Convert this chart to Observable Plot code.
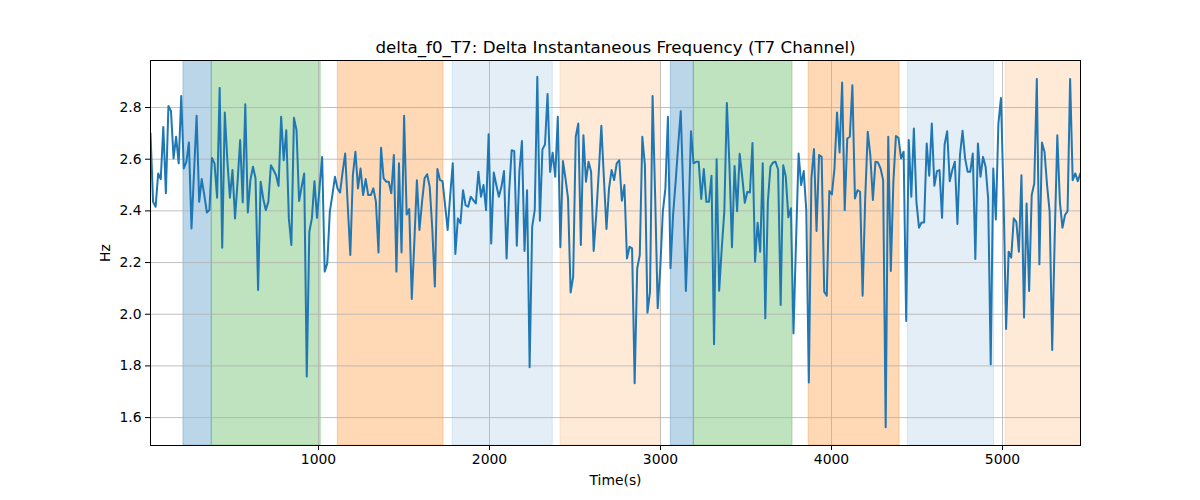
<!DOCTYPE html>
<html>
<head>
<meta charset="utf-8">
<script src="https://cdn.jsdelivr.net/npm/d3@7"></script>
<script src="https://cdn.jsdelivr.net/npm/@observablehq/plot@0.6"></script>
<style>
  html, body { margin: 0; padding: 0; background: #fff; }
  #chart { width: 1200px; height: 500px; }
  svg { font-family: "DejaVu Sans", sans-serif; }
</style>
</head>
<body>
<div id="chart"></div>
<script>
// ---- data ----
const startTime = 17.5;     // s, first sample
const sampleStep = 14.98;   // s between samples
const hz = [
2.700,2.435,2.416,2.545,2.523,2.725,2.468,2.806,2.786,2.603,
2.687,2.584,2.845,2.564,2.590,2.665,2.332,2.551,2.768,2.435,
2.523,2.461,2.394,2.403,2.605,2.584,2.451,2.876,2.257,2.781,
2.596,2.451,2.558,2.371,2.513,2.674,2.433,2.813,2.394,2.519,
2.571,2.526,2.094,2.513,2.448,2.403,2.435,2.577,2.558,2.538,
2.496,2.764,2.596,2.712,2.371,2.268,2.760,2.712,2.438,2.493,
2.545,1.759,2.319,2.371,2.515,2.373,2.493,2.609,2.165,2.197,
2.397,2.461,2.532,2.487,2.471,2.551,2.622,2.422,2.229,2.538,
2.629,2.487,2.564,2.461,2.523,2.461,2.461,2.487,2.435,2.239,
2.644,2.526,2.513,2.513,2.468,2.616,2.165,2.584,2.239,2.768,
2.386,2.407,2.059,2.281,2.519,2.326,2.435,2.526,2.542,2.493,
2.332,2.107,2.562,2.519,2.515,2.422,2.326,2.461,2.584,2.233,
2.371,2.352,2.480,2.422,2.416,2.455,2.442,2.429,2.551,2.455,
2.500,2.403,2.697,2.274,2.549,2.500,2.455,2.493,2.554,2.216,
2.474,2.635,2.631,2.265,2.551,2.670,2.245,2.480,1.795,2.339,
2.403,2.919,2.362,2.638,2.657,2.852,2.551,2.625,2.532,2.764,
2.259,2.593,2.526,2.448,2.084,2.145,2.687,2.738,2.268,2.693,
2.513,2.590,2.551,2.245,2.384,2.551,2.729,2.526,2.330,2.487,
2.558,2.519,2.584,2.596,2.439,2.500,2.216,2.261,2.255,1.733,
2.178,2.229,2.687,2.577,2.006,2.087,2.845,2.461,2.023,2.178,
2.397,2.487,2.764,2.178,2.384,2.513,2.654,2.786,2.461,2.090,
2.358,2.708,2.584,2.590,2.590,2.446,2.562,2.435,2.435,2.536,
1.884,2.600,2.091,2.255,2.397,2.818,2.577,2.259,2.574,2.399,
2.621,2.532,2.431,2.474,2.471,2.663,2.203,2.354,2.242,2.584,
1.984,2.435,2.571,2.587,2.590,2.560,2.036,2.577,2.532,2.375,
2.410,1.926,2.281,2.622,2.500,2.554,2.403,1.736,2.526,2.639,
2.322,2.616,2.609,2.087,2.072,2.477,2.464,2.564,2.781,2.626,
2.897,2.403,2.680,2.687,2.886,2.448,2.480,2.474,2.072,2.448,
2.706,2.616,2.442,2.590,2.587,2.564,2.519,1.563,2.687,2.167,
2.513,2.690,2.683,2.603,2.629,1.974,2.674,2.455,2.719,2.435,
2.335,2.355,2.355,2.661,2.536,2.738,2.497,2.554,2.558,2.373,
2.657,2.708,2.515,2.558,2.590,2.349,2.616,2.710,2.603,2.551,
2.551,2.622,2.214,2.661,2.532,2.609,2.571,2.448,1.806,2.564,
2.367,2.738,2.837,2.461,1.943,2.242,2.219,2.371,2.358,2.242,
2.538,1.987,2.429,2.090,2.461,2.506,2.910,2.193,2.665,2.629,
2.500,2.397,1.862,2.306,2.693,2.435,2.335,2.384,2.399,2.910,
2.519,2.545,2.515,2.545
];

const spanStart = [210, 376, 1113, 1784, 2415, 3060, 3195, 3866, 4446, 5019];
const spanEnd   = [376, 1013, 1731, 2370, 2996, 3195, 3772, 4398, 4951, 5470];
const spanColor = ["#1f77b4","#2ca02c","#ff7f0e","#1f77b4","#ff7f0e","#1f77b4","#2ca02c","#ff7f0e","#1f77b4","#ff7f0e"];
const spanAlpha = [0.3, 0.3, 0.3, 0.12, 0.16, 0.3, 0.3, 0.3, 0.12, 0.16];

const xTicks = [1000, 2000, 3000, 4000, 5000];
const yTicks = [1.6, 1.8, 2.0, 2.2, 2.4, 2.6, 2.8];
const xDomain = [17.5, 5456];
const yDomain = [1.492, 2.982];

const titleText = "delta_f0_T7: Delta Instantaneous Frequency (T7 Channel)";
const xLabel = "Time(s)";
const yLabel = "Hz";

// ---- build tables ----
const series = hz.map((v, i) => ({t: startTime + i * sampleStep, v}));
const spans = spanStart.map((s, i) => ({x1: s, x2: spanEnd[i], c: spanColor[i], a: spanAlpha[i]}));

const chart = Plot.plot({
  width: 1200,
  height: 500,
  marginLeft: 150,
  marginRight: 120,
  marginTop: 60,
  marginBottom: 55,
  style: {fontFamily: "DejaVu Sans, sans-serif", fontSize: "13.9px", background: "#fff"},
  x: {domain: xDomain},
  y: {domain: yDomain},
  marks: [
    Plot.rect(spans, {x1: "x1", x2: "x2", y1: yDomain[0], y2: yDomain[1], fill: "c", fillOpacity: "a", stroke: "c", strokeOpacity: "a", strokeWidth: 1, clip: true}),
    Plot.gridX(xTicks, {stroke: "#b0b0b0", strokeOpacity: 1, strokeWidth: 0.8}),
    Plot.gridY(yTicks, {stroke: "#b0b0b0", strokeOpacity: 1, strokeWidth: 0.8}),
    Plot.line(series, {x: "t", y: "v", stroke: "#1f77b4", strokeWidth: 2, clip: true}),
    Plot.frame({stroke: "black", strokeWidth: 1}),
    Plot.axisX({ticks: xTicks, tickFormat: d3.format("d"), tickSize: 5, tickPadding: 4, label: xLabel, labelAnchor: "center", labelArrow: "none", labelOffset: 39, fontSize: 13.9, color: "black"}),
    Plot.axisY({ticks: yTicks, tickFormat: d3.format(".1f"), tickSize: 5, tickPadding: 4, label: yLabel, labelAnchor: "center", labelArrow: "none", labelOffset: 50, fontSize: 13.9, color: "black"}),
    Plot.text([titleText], {frameAnchor: "top", lineAnchor: "bottom", dy: -8, fontSize: 16.7, fill: "black"})
  ]
});
document.getElementById("chart").appendChild(chart);
</script>
</body>
</html>
